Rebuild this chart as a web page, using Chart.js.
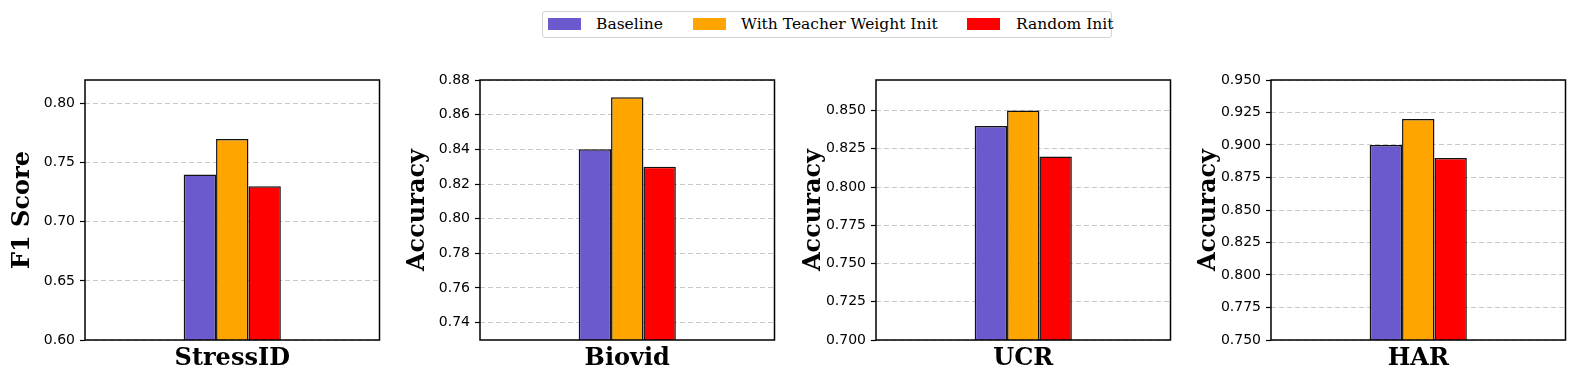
<!DOCTYPE html>
<html><head><meta charset="utf-8">
<script src="https://cdn.jsdelivr.net/npm/chart.js@4.4.0/dist/chart.umd.min.js"></script>
<style>
body{margin:0;background:#fff;width:1577px;height:382px;position:relative;overflow:hidden;font-family:"DejaVu Serif",serif;}
canvas{position:absolute;top:0;}
#legend{position:absolute;left:542px;top:11px;width:570px;height:27px;border:1px solid #d3d3d3;border-radius:3px;box-sizing:border-box;}
.sw{position:absolute;top:18px;width:33px;height:12px;}
.lt{position:absolute;top:14px;height:20px;line-height:20px;font-size:15.5px;color:#000;white-space:nowrap;}
</style>
</head><body>
<div id="legend"></div>
<div id="sw0" class="sw" style="left:548px;"></div><div id="lt0" class="lt" style="left:596px;"></div>
<div id="sw1" class="sw" style="left:693px;"></div><div id="lt1" class="lt" style="left:741px;"></div>
<div id="sw2" class="sw" style="left:967px;"></div><div id="lt2" class="lt" style="left:1016px;"></div>
<canvas id="c0" width="381" height="382" style="left:5px"></canvas>
<canvas id="c1" width="381" height="382" style="left:400px"></canvas>
<canvas id="c2" width="381" height="382" style="left:796px"></canvas>
<canvas id="c3" width="381" height="382" style="left:1191px"></canvas>
<script>
const categories = ['StressID', 'Biovid', 'UCR', 'HAR'];
const yTitles = ['F1 Score', 'Accuracy', 'Accuracy', 'Accuracy'];
const seriesNames = ['Baseline', 'With Teacher Weight Init', 'Random Init'];
const seriesColors = ['#6A5ACD', '#FFA500', '#FF0000'];
const baseline = [0.74, 0.84, 0.84, 0.90];
const teacherInit = [0.77, 0.87, 0.85, 0.92];
const randomInit = [0.73, 0.83, 0.82, 0.89];
const yMin = [0.60, 0.73, 0.70, 0.75];
const yMax = [0.82, 0.88, 0.87, 0.95];
const tickLabels0 = ['0.60', '0.65', '0.70', '0.75', '0.80'];
const tickLabels1 = ['0.74', '0.76', '0.78', '0.80', '0.82', '0.84', '0.86', '0.88'];
const tickLabels2 = ['0.700', '0.725', '0.750', '0.775', '0.800', '0.825', '0.850'];
const tickLabels3 = ['0.750', '0.775', '0.800', '0.825', '0.850', '0.875', '0.900', '0.925', '0.950'];
const tickLabelSets = [tickLabels0, tickLabels1, tickLabels2, tickLabels3];
const seriesValues = [baseline, teacherInit, randomInit];

seriesNames.forEach((n, k) => {
  document.getElementById('sw' + k).style.background = seriesColors[k];
  document.getElementById('lt' + k).textContent = n;
});

const framePlugin = {
  id: 'frame',
  afterDatasetsDraw(chart) {
    const a = chart.chartArea, ctx = chart.ctx;
    ctx.save();
    ctx.strokeStyle = '#000';
    ctx.lineWidth = 1.5;
    ctx.strokeRect(a.left, a.top, a.right - a.left, a.bottom - a.top);
    ctx.restore();
  }
};

const AXIS_W = 80;
for (let i = 0; i < 4; i++) {
  const ticksArr = tickLabelSets[i];
  new Chart(document.getElementById('c' + i), {
    type: 'bar',
    data: {
      labels: [categories[i]],
      datasets: seriesNames.map((n, k) => ({
        label: n,
        data: [seriesValues[k][i]],
        backgroundColor: seriesColors[k],
        borderColor: '#111',
        borderWidth: 1.5,
        borderSkipped: false,
        categoryPercentage: 0.33,
        barPercentage: 1.0
      }))
    },
    options: {
      responsive: false,
      animation: false,
      layout: { padding: { top: 80, right: 6.5, left: 0, bottom: 0 } },
      plugins: { legend: { display: false }, tooltip: { enabled: false } },
      scales: {
        x: {
          grid: { display: false, drawTicks: false },
          border: { display: false },
          ticks: { color: '#000', padding: 4, font: { family: 'DejaVu Serif', weight: 'bold', size: 24 } },
          afterFit: s => { s.height = 42; }
        },
        y: {
          min: yMin[i], max: yMax[i],
          afterBuildTicks: s => { s.ticks = ticksArr.map(t => ({ value: parseFloat(t) })); },
          ticks: {
            color: '#000', padding: 5,
            font: { family: 'DejaVu Sans', size: 14 },
            callback: (v, idx) => ticksArr[idx]
          },
          grid: {
            color: '#c8c8c8', lineWidth: 1,
            drawTicks: true, tickLength: 5, tickColor: '#000', tickWidth: 1.2, tickBorderDash: []
          },
          border: { display: false, dash: [5, 3] },
          title: {
            display: true, text: yTitles[i], color: '#000',
            padding: { top: 3, bottom: 0 },
            font: { family: 'DejaVu Serif', weight: 'bold', size: 24 }
          },
          afterFit: s => { s.width = AXIS_W; }
        }
      }
    },
    plugins: [framePlugin]
  });
}
</script>
</body></html>
